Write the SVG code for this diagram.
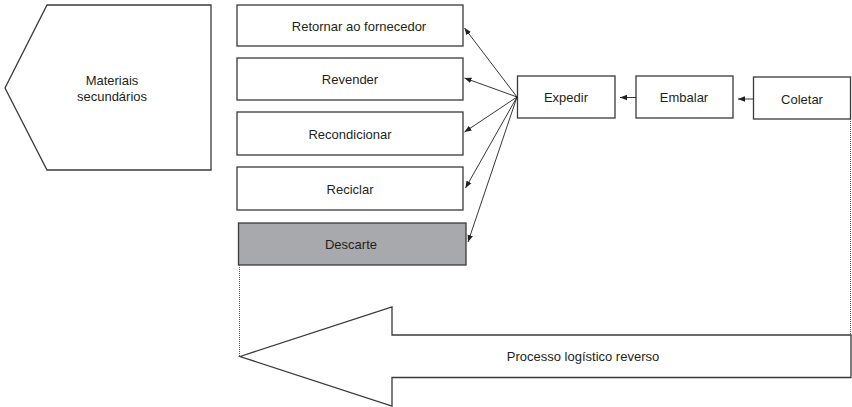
<svg xmlns="http://www.w3.org/2000/svg" width="852" height="407" viewBox="0 0 852 407">
<defs>
<style>
.box{fill:#fff;stroke:#3a3a3a;stroke-width:1.3}
.grey{fill:#a7a9ac}
.t{font-family:"Liberation Sans",Arial,sans-serif;font-size:13px;fill:#231f20;text-anchor:middle;dominant-baseline:central}
.c{stroke:#231f20;stroke-width:0.9;fill:none}
.dot{stroke:#555;stroke-width:1;stroke-dasharray:1 1;fill:none}
</style>
<marker id="ah" viewBox="0 0 10 10" refX="10" refY="5" markerWidth="7" markerHeight="7" markerUnits="userSpaceOnUse" orient="auto">
<path d="M0,1 L10,5 L0,9 Z" fill="#231f20"/>
</marker>
</defs>
<rect width="852" height="407" fill="#fff"/>
<g id="materiais">
<polygon class="box" points="47,5 211,5 211,170 47,170 5,88"/>
<text class="t" x="112" y="80">Materiais</text>
<text class="t" x="112" y="96">secundários</text>
</g>
<g id="retornar">
<rect class="box" x="237" y="5" width="226" height="41"/>
<text class="t" x="359" y="26">Retornar ao fornecedor</text>
</g>
<g id="revender">
<rect class="box" x="237" y="58" width="226" height="42"/>
<text class="t" x="350" y="79">Revender</text>
</g>
<g id="recondicionar">
<rect class="box" x="237" y="112" width="226" height="43"/>
<text class="t" x="350" y="134">Recondicionar</text>
</g>
<g id="reciclar">
<rect class="box" x="237" y="167" width="226" height="43"/>
<text class="t" x="350" y="189">Reciclar</text>
</g>
<g id="descarte">
<rect class="box grey" x="238.5" y="223" width="227.5" height="42"/>
<text class="t" x="351" y="244">Descarte</text>
</g>
<g id="expedir">
<rect class="box" x="517.5" y="76" width="97.5" height="42"/>
<text class="t" x="566" y="97">Expedir</text>
</g>
<g id="embalar">
<rect class="box" x="636" y="76" width="97" height="42"/>
<text class="t" x="684" y="97">Embalar</text>
</g>
<g id="coletar">
<rect class="box" x="753.5" y="77" width="97" height="42"/>
<text class="t" x="802" y="99">Coletar</text>
</g>
<g id="processo">
<polygon class="box" points="240,356.5 392,307 392,335 851,335 851,377.5 392,377.5 392,406"/>
<text class="t" x="583" y="356">Processo logístico reverso</text>
</g>
<g id="connectors">
<line class="c" x1="636" y1="97.5" x2="620" y2="97.5" marker-end="url(#ah)"/>
<line class="c" x1="753.5" y1="99" x2="738" y2="99" marker-end="url(#ah)"/>
<line class="c" x1="517" y1="97" x2="464.5" y2="28" marker-end="url(#ah)"/>
<line class="c" x1="517" y1="97" x2="464.5" y2="78" marker-end="url(#ah)"/>
<line class="c" x1="517" y1="97" x2="464.5" y2="132" marker-end="url(#ah)"/>
<line class="c" x1="517" y1="97" x2="465.5" y2="188" marker-end="url(#ah)"/>
<line class="c" x1="517" y1="97" x2="468" y2="242" marker-end="url(#ah)"/>
<line class="dot" x1="239.5" y1="265" x2="239.5" y2="356"/>
<line class="dot" x1="850.5" y1="119" x2="850.5" y2="335"/>
</g>
</svg>
